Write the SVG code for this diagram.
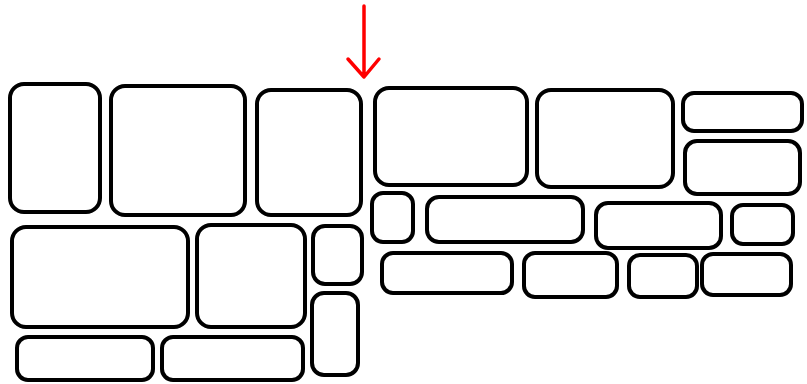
<svg xmlns="http://www.w3.org/2000/svg" width="807" height="384" viewBox="0 0 807 384">
<style>
.s{fill:#fff;stroke:#000;stroke-width:4}
.a{fill:none;stroke:#f00;stroke-width:3.5;stroke-linecap:round;stroke-linejoin:round}
</style>
<rect width="807" height="384" fill="#fff"/>
<g id="stones">
<g id="s1"><rect class="s" x="10" y="84" width="90" height="128" rx="14"/></g>
<g id="s2"><rect class="s" x="111" y="86" width="134" height="129" rx="14"/></g>
<g id="s3"><rect class="s" x="257" y="90" width="104" height="125" rx="14"/></g>
<g id="s4"><rect class="s" x="375" y="88" width="152" height="97" rx="14"/></g>
<g id="s5"><rect class="s" x="537" y="90" width="136" height="97" rx="14"/></g>
<g id="s6"><rect class="s" x="683" y="93" width="119" height="38" rx="11"/></g>
<g id="s7"><rect class="s" x="685" y="141" width="115" height="53" rx="12"/></g>
<g id="s8"><rect class="s" x="12" y="227" width="176" height="100" rx="14"/></g>
<g id="s9"><rect class="s" x="197" y="225" width="108" height="102" rx="14"/></g>
<g id="s10"><rect class="s" x="313" y="226" width="49" height="58" rx="12"/></g>
<g id="s11"><rect class="s" x="312" y="293" width="46" height="82" rx="12"/></g>
<g id="s12"><rect class="s" x="17" y="337" width="136" height="43" rx="11"/></g>
<g id="s13"><rect class="s" x="162" y="337" width="141" height="43" rx="11"/></g>
<g id="s14"><rect class="s" x="372" y="193" width="41" height="49" rx="11"/></g>
<g id="s15"><rect class="s" x="427" y="197" width="156" height="45" rx="12"/></g>
<g id="s16"><rect class="s" x="596" y="203" width="125" height="45" rx="12"/></g>
<g id="s17"><rect class="s" x="732" y="205" width="61" height="39" rx="11"/></g>
<g id="s18"><rect class="s" x="382" y="253" width="130" height="40" rx="11"/></g>
<g id="s19"><rect class="s" x="524" y="253" width="93" height="44" rx="11"/></g>
<g id="s20"><rect class="s" x="629" y="255" width="68" height="42" rx="11"/></g>
<g id="s21"><rect class="s" x="702" y="254" width="89" height="41" rx="11"/></g>
</g>
<g id="connectors">
<path class="a" d="M364 6 V77 M348 59 L364 77 L379 59"/>
</g>
</svg>
